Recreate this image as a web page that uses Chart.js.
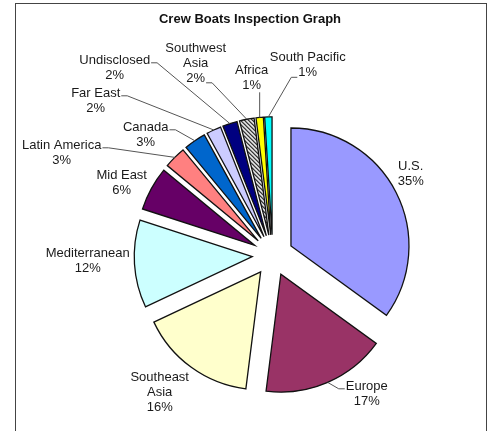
<!DOCTYPE html>
<html>
<head>
<meta charset="utf-8">
<title>Crew Boats Inspection Graph</title>
<script src="https://cdn.jsdelivr.net/npm/chart.js@4/dist/chart.umd.min.js"></script>
<style>
  html, body { margin: 0; padding: 0; background: #fff; }
  #wrap { position: relative; width: 488px; height: 431px; overflow: hidden; }
  #frame {
    position: absolute; left: 15px; top: 3px; width: 470px; height: 450px;
    border: 1px solid #444; pointer-events: none;
  }
</style>
</head>
<body>
<div id="wrap">
  <canvas id="pie" width="488" height="431"></canvas>
  <div id="frame"></div>
</div>
<script>
const chartTitle = "Crew Boats Inspection Graph";
const regions = [
  "U.S.", "Europe", ["Southeast", "Asia"], "Mediterranean", "Mid East",
  "Latin America", "Canada", "Far East", "Undisclosed", ["Southwest", "Asia"],
  "Africa", "South Pacific",
];
const inspections = [35, 17, 16, 12, 6, 3, 3, 2, 2, 2, 1, 1];

// layout: label centres relative to the pie centre, and whether a leader line is drawn
const labelOffsets = [
  [138, -81], [94, 139], [-113, 137], [-185, 6], [-151, -72], [-211, -102],
  [-127, -120], [-177, -154], [-158, -187], [-77, -192], [-21, -177], [35, -190],
];
const hasLeader = [false, true, false, false, false, true, true, true, true, true, true, true];

const EXPLODE = 20.5;
const RADIUS = 118;
const FONT = "13px 'Liberation Sans', Arial, sans-serif";
const LINE_H = 15;

function hatch() {
  const c = document.createElement("canvas");
  c.width = 4;
  c.height = 4;
  const g = c.getContext("2d");
  g.fillStyle = "#fff";
  g.fillRect(0, 0, 4, 4);
  g.strokeStyle = "#000";
  g.lineWidth = 1.2;
  [[0, 0, 4, 4], [-2, 2, 2, 6], [2, -2, 6, 2]].forEach(([a, b, c2, d]) => {
    g.beginPath();
    g.moveTo(a, b);
    g.lineTo(c2, d);
    g.stroke();
  });
  return g.createPattern(c, "repeat");
}

const sliceColors = [
  "#9999FF", "#993366", "#FFFFCC", "#CCFFFF", "#660066", "#FF8080",
  "#0066CC", "#CCCCFF", "#000080", hatch(), "#FFFF00", "#00FFFF",
];

// draw each arc pushed out along its middle angle
const explodePlugin = {
  id: "explode",
  beforeDatasetDraw(chart, args) {
    const ctx = chart.ctx;
    args.meta.data.forEach((arc) => {
      const mid = (arc.startAngle + arc.endAngle) / 2;
      ctx.save();
      ctx.translate(Math.cos(mid) * EXPLODE, Math.sin(mid) * EXPLODE);
      arc.draw(ctx);
      ctx.restore();
    });
    return false;
  },
};

const labelPlugin = {
  id: "labels",
  afterDraw(chart) {
    const ctx = chart.ctx;
    const meta = chart.getDatasetMeta(0);

    ctx.save();
    ctx.fillStyle = "#111";
    ctx.font = "bold 13px 'Liberation Sans', Arial, sans-serif";
    ctx.textAlign = "center";
    ctx.textBaseline = "middle";
    ctx.fillText(chartTitle, 250, 19);

    ctx.font = FONT;
    meta.data.forEach((arc, i) => {
      const name = regions[i];
      const lines = (Array.isArray(name) ? name : [name]).concat(inspections[i] + "%");
      const cx = arc.x + labelOffsets[i][0];
      const cy = arc.y + labelOffsets[i][1];
      const top = cy - (lines.length * LINE_H) / 2;

      ctx.fillStyle = "#1a1a1a";
      lines.forEach((t, k) => ctx.fillText(t, cx, top + LINE_H * (k + 0.5)));

      if (!hasLeader[i]) return;
      const mid = (arc.startAngle + arc.endAngle) / 2;
      const px = arc.x + Math.cos(mid) * (EXPLODE + arc.outerRadius);
      const py = arc.y + Math.sin(mid) * (EXPLODE + arc.outerRadius);
      const widest = Math.max(...lines.map((t) => ctx.measureText(t).width));
      const lastW = ctx.measureText(lines[lines.length - 1]).width;
      const bottom = top + lines.length * LINE_H;

      ctx.strokeStyle = "#555";
      ctx.lineWidth = 1;
      ctx.beginPath();
      if (Math.abs(px - cx) <= lastW / 2) {
        ctx.moveTo(px, py);
        ctx.lineTo(px, bottom - 1);
      } else {
        const dir = px > cx ? 1 : -1;
        let ax, ay;
        if (Math.abs(py - cy) > Math.abs(px - cx)) {
          ax = cx + dir * (lastW / 2 + 1);
          ay = bottom - 3;
        } else {
          ax = cx + dir * (widest / 2 + 1);
          ay = top + LINE_H / 2 + 2;
        }
        ctx.moveTo(ax, ay);
        ctx.lineTo(ax + dir * 6, ay);
        ctx.lineTo(px, py);
      }
      ctx.stroke();
    });
    ctx.restore();
  },
};

new Chart(document.getElementById("pie"), {
  type: "pie",
  data: {
    labels: regions,
    datasets: [
      {
        data: inspections,
        backgroundColor: sliceColors,
        borderColor: "#111",
        borderWidth: 1.3,
        borderJoinStyle: "miter",
      },
    ],
  },
  options: {
    responsive: false,
    animation: false,
    radius: RADIUS,
    layout: { padding: { left: 60, right: 2.6, top: 90, bottom: 10.4 } },
    plugins: {
      legend: { display: false },
      tooltip: { enabled: false },
      title: { display: false },
    },
  },
  plugins: [explodePlugin, labelPlugin],
});
</script>
</body>
</html>
